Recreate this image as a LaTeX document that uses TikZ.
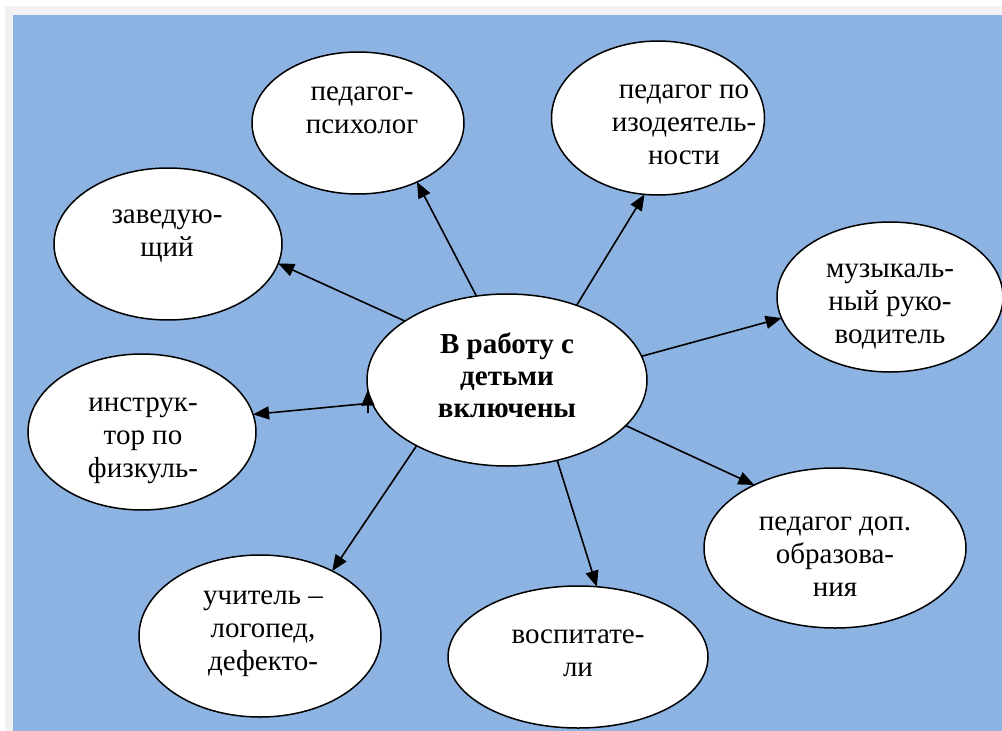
\documentclass[tikz,border=0pt]{standalone}
\usepackage{fontspec}
\setmainfont{Liberation Serif}
\usetikzlibrary{arrows.meta,shapes.geometric}
\definecolor{bgblue}{RGB}{141,179,226}
\definecolor{framegray}{RGB}{242,242,242}
\begin{document}
\begin{tikzpicture}[x=1pt,y=-1pt,
  oval/.style={ellipse, draw=black, line width=1.5pt, fill=white, inner sep=0pt, outer sep=0pt},
  lbl/.style={align=center, font=\fontsize{29}{33}\selectfont, inner sep=0pt},
  conn/.style={line width=1.6pt, -{Triangle[length=16pt,width=13pt]}}]
\fill[white] (0,0) rectangle (1002,731);
\useasboundingbox (0,0) rectangle (1002,731);
\fill[framegray] (5,6) rectangle (1002,731);
\fill[bgblue] (13,15) rectangle (1002,731);

% ellipses
\node[oval, minimum width=280pt, minimum height=172pt] (c) at (507,380) {};
\node[oval, minimum width=212pt, minimum height=142pt] (p) at (358,123) {};
\node[oval, minimum width=213pt, minimum height=154pt] (i) at (658,118) {};
\node[oval, minimum width=228pt, minimum height=152pt] (z) at (168,244) {};
\node[oval, minimum width=226pt, minimum height=150pt] (m) at (890,297) {};
\node[oval, minimum width=228pt, minimum height=156pt] (f) at (142,432) {};
\node[oval, minimum width=242pt, minimum height=162pt] (l) at (260,636) {};
\node[oval, minimum width=260pt, minimum height=142pt] (v) at (578,657) {};
\node[oval, minimum width=262pt, minimum height=160pt] (d) at (835,548) {};

% texts
\node[lbl, font=\fontsize{29}{32}\selectfont\bfseries] (ct) at (507,375) {В работу с\\детьми\\включены};
\node[lbl] (pt) at (362,110) {педагог-\\психолог};
\node[lbl] (it) at (684,125) {педагог по\\изодеятель-\\ности};
\node[lbl] (zt) at (167,236) {заведую-\\щий};
\node[lbl] (mt) at (890,306) {музыкаль-\\ный руко-\\водитель};
\node[lbl] (ft) at (143,441) {инструк-\\тор по\\физкуль-};
\node[lbl] (lt) at (263,634) {учитель –\\логопед,\\дефекто-};
\node[lbl] (vt) at (578,653) {воспитате-\\ли};
\node[lbl] (dt) at (835,557) {педагог доп.\\образова-\\ния};

% connectors
\draw[conn] (c.110.6) -- (p.315.5);
\draw[conn] (c.47.8) -- (i.260.4);
\draw[conn] (c.150) -- (z.350.6);
\draw[conn] (c.10) -- (m.191.4);
\coordinate (fa) at (362,404);
\coordinate (fb) at (368,413);
\draw[conn] (fa) -- (f.9.9);
\draw[conn] (fb) -- (c.184);
\draw[conn] (c.216.5) -- (l.42.2);
\draw[conn] (c.302.9) -- (v.75);
\draw[conn] (c.339.4) -- (d.142.5);
\end{tikzpicture}
\end{document}
